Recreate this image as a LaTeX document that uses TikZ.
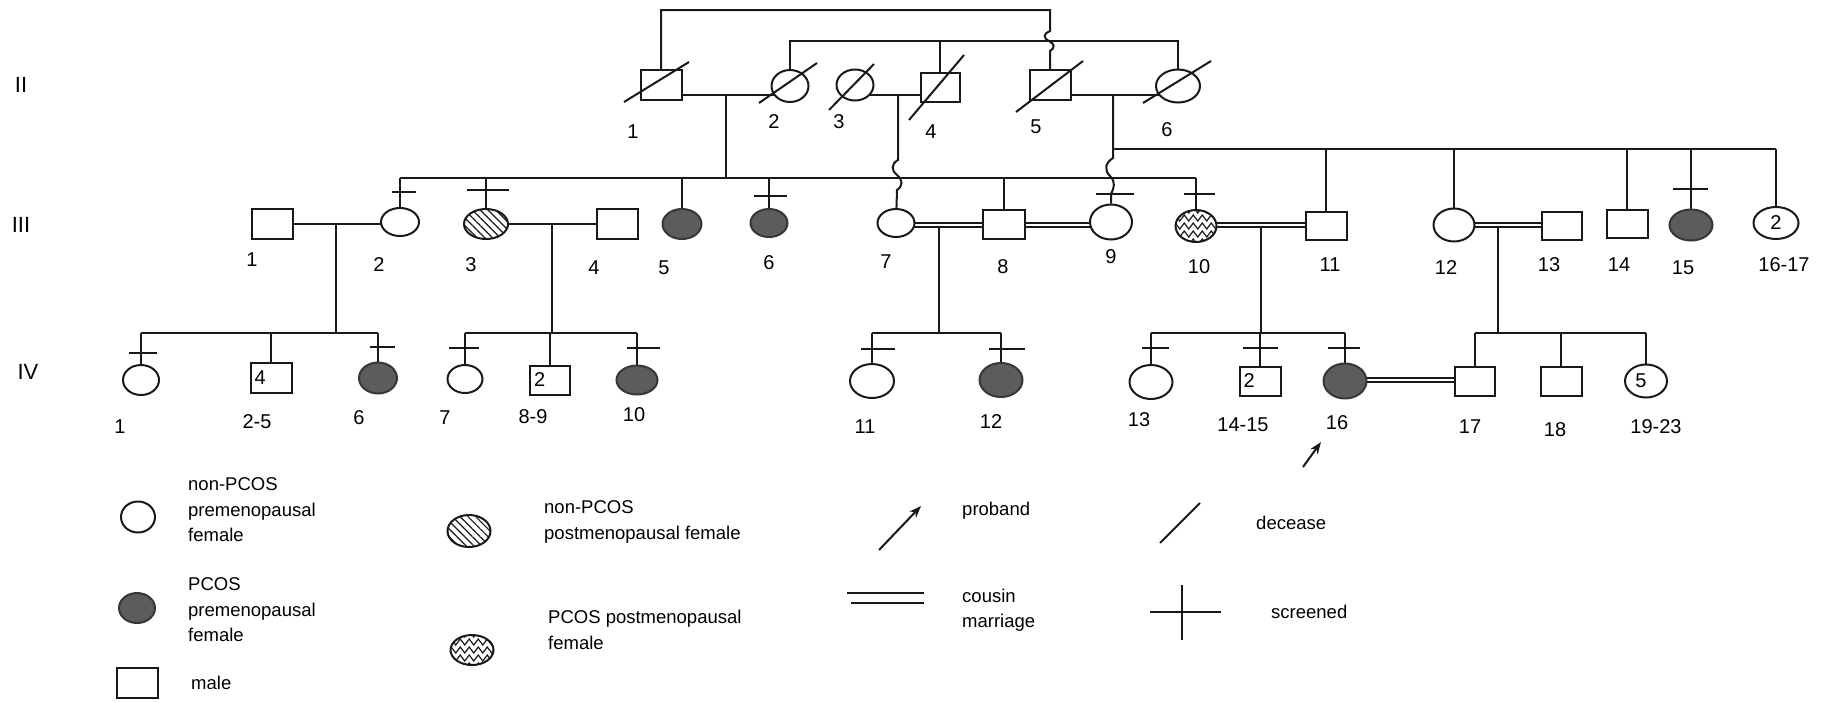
\documentclass[tikz,border=0pt]{standalone}
\usepackage{fontspec}
\setmainfont{Liberation Sans}
\usetikzlibrary{shapes.geometric,patterns.meta,decorations.pathmorphing,arrows.meta,calc}
\pgfdeclarelayer{paper}
\pgfdeclarelayer{background}
\pgfsetlayers{paper,background,main}
\definecolor{ink}{RGB}{25,25,25}
\definecolor{pcosfill}{RGB}{92,92,92}
\definecolor{pcosedge}{RGB}{55,55,55}
\newcommand\numfont{\fontsize{20}{24}\selectfont}
\newcommand\genfont{\fontsize{22}{24}\selectfont}
\newcommand\legfont{\fontsize{18.5}{25.5}\selectfont}
\tikzset{
 ln/.style={line width=2pt, draw=ink},
 sq/.style={draw=ink, line width=2pt, rectangle, fill=white, inner sep=0pt, minimum width=41pt, minimum height=30pt, font=\numfont},
 fc/.style={draw=ink, line width=2pt, ellipse, fill=white, inner sep=0pt, minimum width=38pt, minimum height=30pt, font=\numfont},
 pc/.style={fc, fill=pcosfill, draw=pcosedge},
 hc/.style={fc, preaction={fill=white}, pattern={Lines[angle=-45,distance=5.5pt,line width=1.2pt]}, pattern color=ink},
 wc/.style={fc, path picture={\foreach \k in {-3,...,3}{\draw[line width=1.2pt, draw=ink, decorate, decoration={zigzag,segment length=9pt,amplitude=3pt}] ($(path picture bounding box.center)+(-32,\k*8)$) -- ++(64,0);}}},
 num/.style={font=\numfont, inner sep=0pt},
 gen/.style={font=\genfont, inner sep=0pt},
 leg/.style={font=\legfont, inner sep=0pt, align=left, anchor=west},
 cousin/.style={draw=ink, double=white, double distance=2.4pt, line width=1.4pt},
 dec/.style={line width=2pt, draw=ink},
 scr/.style={line width=2pt, draw=ink},
 prb/.style={line width=2pt, draw=ink, -{Stealth[length=12pt,width=9pt]}},
}
\begin{document}
\begin{tikzpicture}[x=1pt,y=-1pt]
\begin{pgfonlayer}{paper}
\fill[white] (0,0) rectangle (1827,702);
\end{pgfonlayer}
\useasboundingbox (0,0) rectangle (1827,702);

% generation labels
\node[gen] (gII) at (21,85) {II};
\node[gen] (gIII) at (21,225) {III};
\node[gen] (gIV) at (28,372) {IV};

% ---------- generation II
\node[sq] (II1) at (661,85) {};
\node[fc, minimum width=37pt, minimum height=32pt] (II2) at (790,86) {};
\node[fc, minimum width=37pt, minimum height=31pt] (II3) at (855,85) {};
\node[sq, minimum width=39pt, minimum height=29pt] (II4) at (940,87) {};
\node[sq] (II5) at (1050,85) {};
\node[fc, minimum width=44pt, minimum height=33pt] (II6) at (1178,86) {};

% ---------- generation III
\node[sq] (III1) at (272,224) {};
\node[fc, minimum width=38pt, minimum height=28pt] (III2) at (400,222) {};
\node[hc, minimum width=44pt, minimum height=30pt] (III3) at (486,224) {};
\node[sq] (III4) at (617,224) {};
\node[pc, minimum width=39pt, minimum height=30pt] (III5) at (682,224) {};
\node[pc, minimum width=37pt, minimum height=28pt] (III6) at (769,223) {};
\node[fc, minimum width=37pt, minimum height=28pt] (III7) at (896,223) {};
\node[sq, minimum width=42pt, minimum height=29pt] (III8) at (1004,224) {};
\node[fc, minimum width=42pt, minimum height=35pt] (III9) at (1111,222) {};
\node[wc, minimum width=41pt, minimum height=32pt] (III10) at (1196,226) {};
\node[sq, minimum height=28pt] (III11) at (1326,226) {};
\node[fc, minimum width=41pt, minimum height=33pt] (III12) at (1454,225) {};
\node[sq, minimum width=40pt, minimum height=28pt] (III13) at (1562,226) {};
\node[sq, minimum height=28pt] (III14) at (1627,224) {};
\node[pc, minimum width=43pt, minimum height=31pt] (III15) at (1691,225) {};
\node[fc, minimum width=45pt, minimum height=32pt] (III16) at (1776,223) {2};

% ---------- generation IV
\node[fc, minimum width=36pt, minimum height=30pt] (IV1) at (141,380) {};
\node[sq, label={[num, anchor=west, xshift=5pt]west:4}] (IV2) at (271,378) {};
\node[pc, minimum width=38pt, minimum height=31pt] (IV6) at (378,378) {};
\node[fc, minimum width=35pt, minimum height=28pt] (IV7) at (465,379) {};
\node[sq, minimum width=40pt, minimum height=29pt, label={[num, anchor=west, xshift=5pt]west:2}] (IV8) at (550,380) {};
\node[pc, minimum width=41pt, minimum height=29pt] (IV10) at (637,380) {};
\node[fc, minimum width=44pt, minimum height=34pt] (IV11) at (872,381) {};
\node[pc, minimum width=43pt, minimum height=34pt] (IV12) at (1001,380) {};
\node[fc, minimum width=43pt, minimum height=34pt] (IV13) at (1151,382) {};
\node[sq, minimum height=29pt, label={[num, anchor=west, xshift=5pt]west:2}] (IV14) at (1260,381) {};
\node[pc, minimum width=43pt, minimum height=35pt] (IV16) at (1345,381) {};
\node[sq, minimum width=40pt, minimum height=29pt] (IV17) at (1475,381) {};
\node[sq, minimum height=29pt] (IV18) at (1561,381) {};
\node[fc, minimum width=42pt, minimum height=33pt, label={[num, xshift=-5pt]center:5}] (IV19) at (1646,381) {};

% level coordinates
\coordinate (yTop) at (0,10);
\coordinate (yB) at (0,41);
\coordinate (yM2) at (0,95);
\coordinate (yR) at (0,149);
\coordinate (yS3) at (0,178);
\coordinate (yM3) at (0,224);
\coordinate (yC3) at (0,225);
\coordinate (yS4) at (0,333);
\coordinate (yC4) at (0,380);
\coordinate (d12) at (726,95);
\coordinate (d34) at (898,95);
\coordinate (d56) at (1113,95);
\coordinate (dA) at (336,224);
\coordinate (dB) at (552,224);
\coordinate (dC) at (939,227);
\coordinate (dD) at (1261,227);
\coordinate (dE) at (1498,227);

\begin{pgfonlayer}{background}
% generation II links
\draw[ln] (II1) -- (II1 |- yTop) -- (II5 |- yTop) -- (1050,31)
   .. controls (1043,34) and (1043,38) .. (1049,41)
   .. controls (1055,44) and (1055,48) .. (1050,51) -- (II5);
\draw[ln] (II2) -- (II2 |- yB) -- (II6 |- yB) -- (II6);
\draw[ln] (II4) -- (II4 |- yB);
\draw[ln] (II1 |- yM2) -- (II2 |- yM2);
\draw[ln] (II3 |- yM2) -- (II4 |- yM2);
\draw[ln] (II5 |- yM2) -- (II6 |- yM2);
% sibship of II1 x II2
\draw[ln] (d12) -- (d12 |- yS3);
\draw[ln] (III2 |- yS3) -- (III10 |- yS3);
\foreach \n in {III2,III3,III5,III6,III8,III10} \draw[ln] (\n) -- (\n |- yS3);
% child of II3 x II4
\draw[ln] (d34) -- (898,160) .. controls (891,164) and (891,170) .. (897,175)
   .. controls (903,180) and (903,186) .. (897,190) -- (III7);
% children of II5 x II6
\draw[ln] (d56) -- (1113,158) .. controls (1105,163) and (1104,170) .. (1110,176)
   .. controls (1116,182) and (1114,188) .. (1111,194) -- (III9);
\draw[ln] (d56 |- yR) -- (III16 |- yR);
\foreach \n in {III11,III12,III14,III15,III16} \draw[ln] (\n) -- (\n |- yR);
% generation III marriages
\draw[ln] (III1 |- yM3) -- (III2 |- yM3);
\draw[ln] (III3 |- yM3) -- (III4 |- yM3);
\draw[cousin] (III7 |- yC3) -- (III8 |- yC3);
\draw[cousin] (III8 |- yC3) -- (III9 |- yC3);
\draw[cousin] (III10 |- yC3) -- (III11 |- yC3);
\draw[cousin] (III12 |- yC3) -- (III13 |- yC3);
\draw[cousin] (IV16 |- yC4) -- (IV17 |- yC4);
% generation IV sibships
\draw[ln] (dA) -- (dA |- yS4);
\draw[ln] (IV1 |- yS4) -- (IV6 |- yS4);
\foreach \n in {IV1,IV2,IV6} \draw[ln] (\n) -- (\n |- yS4);
\draw[ln] (dB) -- (dB |- yS4);
\draw[ln] (IV7 |- yS4) -- (IV10 |- yS4);
\foreach \n in {IV7,IV8,IV10} \draw[ln] (\n) -- (\n |- yS4);
\draw[ln] (dC) -- (dC |- yS4);
\draw[ln] (IV11 |- yS4) -- (IV12 |- yS4);
\foreach \n in {IV11,IV12} \draw[ln] (\n) -- (\n |- yS4);
\draw[ln] (dD) -- (dD |- yS4);
\draw[ln] (IV13 |- yS4) -- (IV16 |- yS4);
\foreach \n in {IV13,IV14,IV16} \draw[ln] (\n) -- (\n |- yS4);
\draw[ln] (dE) -- (dE |- yS4);
\draw[ln] (IV17 |- yS4) -- (IV19 |- yS4);
\foreach \n in {IV17,IV18,IV19} \draw[ln] (\n) -- (\n |- yS4);
\end{pgfonlayer}

% deceased slashes
\draw[dec] (II1.center) ++(-37,17) -- ++(65,-40);
\draw[dec] (II2.center) ++(-31,17) -- ++(58,-40);
\draw[dec] (II3.center) ++(-26,25) -- ++(45,-46);
\draw[dec] (II4.center) ++(-31,33) -- ++(55,-65);
\draw[dec] (II5.center) ++(-34,27) -- ++(67,-51);
\draw[dec] (II6.center) ++(-35,17) -- ++(68,-42);

% screened marks
\draw[scr] (392,192) -- (416,192);
\draw[scr] (467,190) -- (509,190);
\draw[scr] (754,196) -- (787,196);
\draw[scr] (1096,194) -- (1134,194);
\draw[scr] (1184,194) -- (1215,194);
\draw[scr] (1673,189) -- (1708,189);
\draw[scr] (129,353) -- (157,353);
\draw[scr] (370,347) -- (395,347);
\draw[scr] (449,348) -- (479,348);
\draw[scr] (627,348) -- (660,348);
\draw[scr] (861,349) -- (895,349);
\draw[scr] (989,349) -- (1025,349);
\draw[scr] (1142,348) -- (1169,348);
\draw[scr] (1243,348) -- (1278,348);
\draw[scr] (1328,348) -- (1360,348);

% proband arrow
\coordinate (pb1) at (1303,467);
\coordinate (pb2) at (1321,442);
\draw[prb] (pb1) -- (pb2);

% numbers generation II
\node[num] (nII1) at (633,132) {1};
\node[num] (nII2) at (774,122) {2};
\node[num] (nII3) at (839,122) {3};
\node[num] (nII4) at (931,132) {4};
\node[num] (nII5) at (1036,127) {5};
\node[num] (nII6) at (1167,130) {6};
% numbers generation III
\node[num] (nIII1) at (252,260) {1};
\node[num] (nIII2) at (379,265) {2};
\node[num] (nIII3) at (471,265) {3};
\node[num] (nIII4) at (594,268) {4};
\node[num] (nIII5) at (664,268) {5};
\node[num] (nIII6) at (769,263) {6};
\node[num] (nIII7) at (886,262) {7};
\node[num] (nIII8) at (1003,267) {8};
\node[num] (nIII9) at (1111,257) {9};
\node[num] (nIII10) at (1199,267) {10};
\node[num] (nIII11) at (1330,265) {11};
\node[num] (nIII12) at (1446,268) {12};
\node[num] (nIII13) at (1549,265) {13};
\node[num] (nIII14) at (1619,265) {14};
\node[num] (nIII15) at (1683,268) {15};
\node[num] (nIII16) at (1784,265) {16-17};
% numbers generation IV
\node[num] (nIV1) at (120,427) {1};
\node[num] (nIV2) at (257,422) {2-5};
\node[num] (nIV6) at (359,418) {6};
\node[num] (nIV7) at (445,418) {7};
\node[num] (nIV8) at (533,417) {8-9};
\node[num] (nIV10) at (634,415) {10};
\node[num] (nIV11) at (865,427) {11};
\node[num] (nIV12) at (991,422) {12};
\node[num] (nIV13) at (1139,420) {13};
\node[num] (nIV14) at (1243,425) {14-15};
\node[num] (nIV16) at (1337,423) {16};
\node[num] (nIV17) at (1470,427) {17};
\node[num] (nIV18) at (1555,430) {18};
\node[num] (nIV19) at (1656,427) {19-23};

% ---------- legend
\node[fc, minimum width=34pt, minimum height=31pt] (L1) at (138,517) {};
\node[leg] (t1) at (188,510) {non-PCOS\\premenopausal\\female};
\node[hc, minimum width=43pt, minimum height=32pt] (L2) at (469,531) {};
\node[leg] (t2) at (544,522) {non-PCOS\\postmenopausal female};
\node[pc, minimum width=36pt, minimum height=30pt] (L3) at (137,608) {};
\node[leg] (t3) at (188,610) {PCOS\\premenopausal\\female};
\node[wc, minimum width=43pt, minimum height=30pt] (L4) at (472,650) {};
\node[leg] (t4) at (548,630) {PCOS postmenopausal\\female};
\node[sq] (L5) at (137,683) {};
\node[leg] (t5) at (191,683) {male};

\coordinate (pa1) at (879,550);
\coordinate (pa2) at (921,506);
\draw[prb] (pa1) -- (pa2);
\node[leg] (t6) at (962,511) {proband};

\coordinate (ds1) at (1160,543);
\coordinate (ds2) at (1200,503);
\draw[dec] (ds1) -- (ds2);
\node[leg] (t7) at (1256,523) {decease};

\coordinate (cm1) at (847,593);
\coordinate (cm2) at (924,593);
\coordinate (cm3) at (851,603);
\coordinate (cm4) at (924,603);
\draw[ln] (cm1) -- (cm2);
\draw[ln] (cm3) -- (cm4);
\node[leg] (t8) at (962,610) {cousin\\marriage};

\coordinate (sc1) at (1150,612);
\coordinate (sc2) at (1221,612);
\coordinate (sc3) at (1182,585);
\coordinate (sc4) at (1182,640);
\draw[scr] (sc1) -- (sc2);
\draw[scr] (sc3) -- (sc4);
\node[leg] (t9) at (1271,612) {screened};
\end{tikzpicture}
\end{document}
